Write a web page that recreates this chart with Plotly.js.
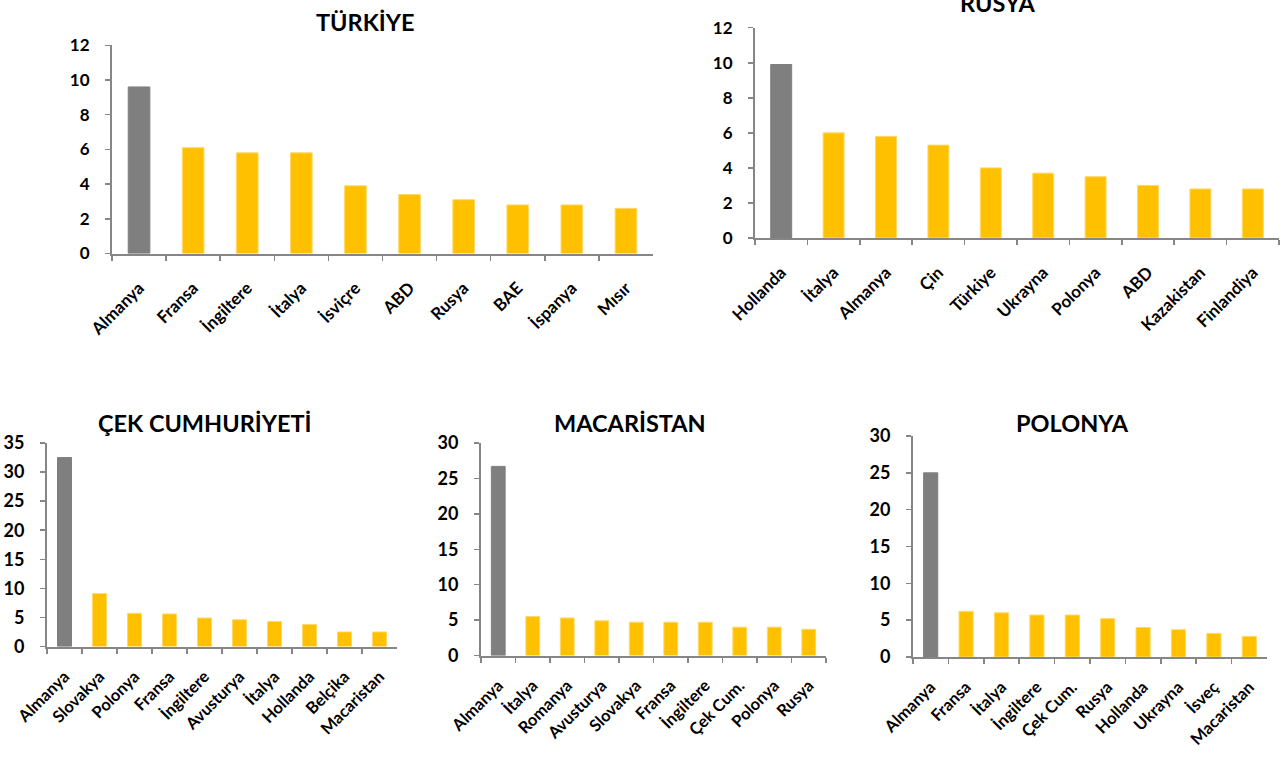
<!DOCTYPE html>
<html>
<head>
<meta charset="utf-8">
<script src="https://cdn.plot.ly/plotly-3.0.1.min.js"></script>
<style>html,body{margin:0;padding:0;background:#fff;}#chart{width:1283px;height:757px;}</style>
</head>
<body>
<div id="chart"></div>
<script>
// ---- data ----
const turkiyeCats = ['Almanya','Fransa','İngiltere','İtalya','İsviçre','ABD','Rusya','BAE','İspanya','Mısır'];
const turkiyeVals = [9.6, 6.1, 5.8, 5.8, 3.9, 3.4, 3.1, 2.8, 2.8, 2.6];

const rusyaCats = ['Hollanda','İtalya','Almanya','Çin','Türkiye','Ukrayna','Polonya','ABD','Kazakistan','Finlandiya'];
const rusyaVals = [9.9, 6.0, 5.8, 5.3, 4.0, 3.7, 3.5, 3.0, 2.8, 2.8];

const cekCats = ['Almanya','Slovakya','Polonya','Fransa','İngiltere','Avusturya','İtalya','Hollanda','Belçika','Macaristan'];
const cekVals = [32.5, 9.1, 5.7, 5.6, 4.9, 4.6, 4.3, 3.8, 2.5, 2.5];

const macCats = ['Almanya','İtalya','Romanya','Avusturya','Slovakya','Fransa','İngiltere','Çek Cum.','Polonya','Rusya'];
const macVals = [26.7, 5.5, 5.3, 4.9, 4.7, 4.7, 4.7, 4.0, 4.0, 3.7];

const polCats = ['Almanya','Fransa','İtalya','İngiltere','Çek Cum.','Rusya','Hollanda','Ukrayna','İsveç','Macaristan'];
const polVals = [25.0, 6.2, 6.0, 5.7, 5.7, 5.2, 4.0, 3.7, 3.2, 2.8];

const titles = ['TÜRKİYE','RUSYA','ÇEK CUMHURİYETİ','MACARİSTAN','POLONYA'];

// ---- styling ----
const GRAY = '#7F7F7F';
const YELLOW = '#FFC000';
const AXIS = '#868686';
const W = 1283, H = 757;
const FONT = 'Lato, "Open Sans", sans-serif';

const panels = [
  {cats: turkiyeCats, vals: turkiyeVals, x0: 112, x1: 653, yTop: 45.3, yBot: 253.5, max: 12, dtick: 2, yfs: 17, xfs: 17, xso: 16, tx: 365, ty: 22},
  {cats: rusyaCats,   vals: rusyaVals,   x0: 755, x1: 1279, yTop: 27.7, yBot: 238, max: 12, dtick: 2, yfs: 17, xfs: 17, xso: 16, tx: 997, ty: 3},
  {cats: cekCats,     vals: cekVals,     x0: 47,  x1: 397, yTop: 443, yBot: 646.5, max: 35, dtick: 5, yfs: 18, xfs: 16.5, xso: 12, tx: 205, ty: 423},
  {cats: macCats,     vals: macVals,     x0: 481, x1: 826, yTop: 443, yBot: 655.5, max: 30, dtick: 5, yfs: 18, xfs: 16.5, xso: 12, tx: 630, ty: 423},
  {cats: polCats,     vals: polVals,     x0: 913, x1: 1267, yTop: 436, yBot: 657, max: 30, dtick: 5, yfs: 18, xfs: 16.5, xso: 12, tx: 1072, ty: 423}
];

const data = [];
const layout = {
  width: W, height: H,
  margin: {l: 0, r: 0, t: 0, b: 0},
  paper_bgcolor: '#ffffff', plot_bgcolor: '#ffffff',
  showlegend: false,
  bargap: 0.6,
  font: {family: FONT, color: '#000'},
  annotations: []
};

panels.forEach((p, i) => {
  const n = i === 0 ? '' : String(i + 1);
  data.push({
    type: 'bar',
    x: p.cats,
    y: p.vals,
    xaxis: 'x' + n,
    yaxis: 'y' + n,
    marker: {
      color: p.vals.map((v, k) => k === 0 ? GRAY : YELLOW),
      line: {color: p.vals.map((v, k) => k === 0 ? GRAY : '#FFD866'), width: 1}
    },
    hoverinfo: 'x+y'
  });
  layout['xaxis' + n] = {
    domain: [p.x0 / W, p.x1 / W],
    anchor: 'y' + n,
    type: 'category',
    showline: true, linecolor: AXIS, linewidth: 2,
    ticks: 'outside', tickson: 'boundaries', ticklen: 5, tickcolor: AXIS, tickwidth: 1.5,
    tickangle: -45,
    tickfont: {family: FONT, size: p.xfs, color: '#000', weight: 'bold'},
    ticklabelstandoff: p.xso,
    showgrid: false, zeroline: false, fixedrange: true
  };
  layout['yaxis' + n] = {
    domain: [1 - p.yBot / H, 1 - p.yTop / H],
    anchor: 'x' + n,
    range: [0, p.max],
    dtick: p.dtick, tick0: 0,
    showline: true, linecolor: AXIS, linewidth: 2,
    ticks: 'outside', ticklen: 5, tickcolor: AXIS, tickwidth: 1.5,
    tickfont: {family: FONT, size: p.yfs, color: '#000', weight: 'bold'},
    ticklabelstandoff: 12,
    showgrid: false, zeroline: false, fixedrange: true
  };
  layout.annotations.push({
    text: '<b>' + titles[i] + '</b>',
    xref: 'paper', yref: 'paper',
    x: p.tx / W, y: 1 - p.ty / H,
    xanchor: 'center', yanchor: 'middle',
    showarrow: false,
    font: {family: FONT, size: 23.5, color: '#000'}
  });
});

Plotly.newPlot('chart', data, layout, {displayModeBar: false, staticPlot: true});
</script>
</body>
</html>
